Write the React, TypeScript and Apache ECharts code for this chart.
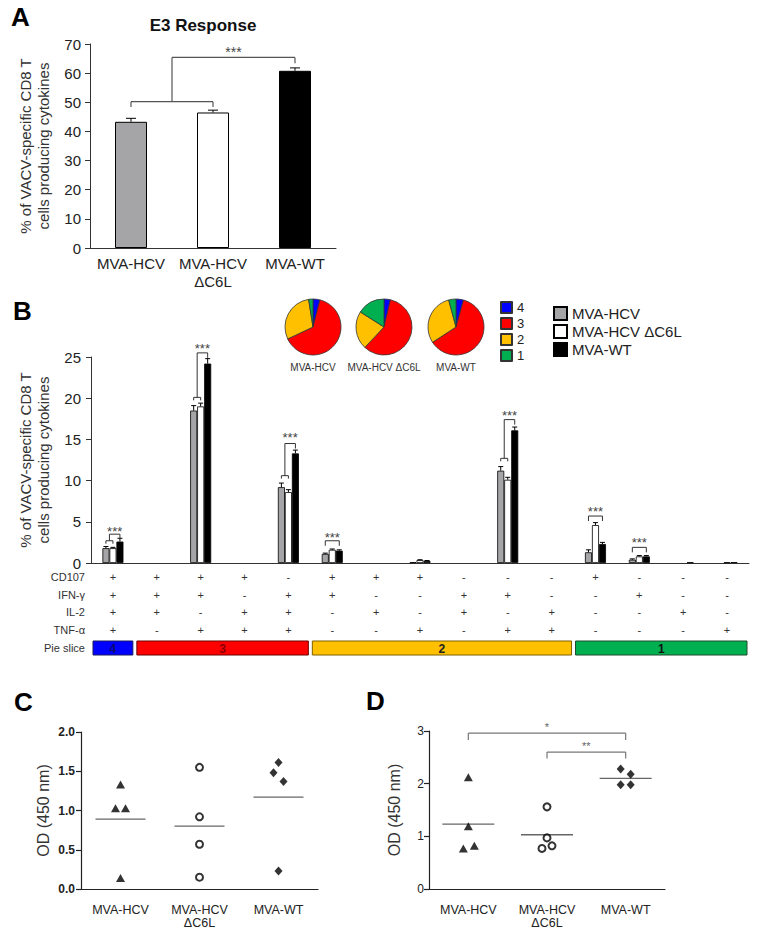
import React, { useEffect, useRef } from 'react';
import * as echarts from 'echarts';

const FONT = "'Liberation Sans', Arial, sans-serif";

// ---------- Panel A ----------
const groupsA = ['MVA-HCV', 'MVA-HCV\nΔC6L', 'MVA-WT'];
const valuesA = [43.3, 46.5, 60.8];
const errorsA = [1.2, 0.8, 1.0];
const groupColors = ['#a5a5a8', '#ffffff', '#000000'];
const sigALow = 50.2;
const sigALowLeg = 48.4;
const sigAHigh = 65.4;
const sigAHighLeg = 63.4;
const sigAStar = 68.2;

// ---------- Panel B ----------
const seriesNamesB = ['MVA-HCV', 'MVA-HCV ΔC6L', 'MVA-WT'];
const columnsB = ['1', '2', '3', '4', '5', '6', '7', '8', '9', '10', '11', '12', '13', '14', '15'];
const hcvB = [1.8, null, 18.5, null, 9.2, 1.1, null, 0.1, null, 11.2, null, 1.3, 0.4, null, null];
const c6lB = [1.8, null, 19.0, null, 8.6, 1.6, null, 0.35, null, 10.1, null, 4.6, 0.8, null, 0.08];
const wtB = [2.6, null, 24.2, null, 13.3, 1.5, null, 0.25, null, 16.1, null, 2.3, 0.8, 0.08, 0.1];
const hcvErrB = [0.2, 0, 0.6, 0, 0.5, 0.1, 0, 0, 0, 0.5, 0, 0.3, 0.1, 0, 0];
const c6lErrB = [0.1, 0, 0.4, 0, 0.3, 0.1, 0, 0.05, 0, 0.3, 0, 0.3, 0.1, 0, 0];
const wtErrB = [0.4, 0, 0.6, 0, 0.4, 0.1, 0, 0.05, 0, 0.4, 0, 0.2, 0.1, 0, 0];

const rowNames = ['CD107', 'IFN-γ', 'IL-2', 'TNF-α'];
const rowCD107 = ['+', '+', '+', '+', '-', '+', '+', '+', '-', '-', '-', '+', '-', '-', '-'];
const rowIFN = ['+', '+', '+', '-', '+', '+', '-', '-', '+', '+', '-', '-', '+', '-', '-'];
const rowIL2 = ['+', '+', '-', '+', '+', '-', '+', '-', '+', '-', '+', '-', '-', '+', '-'];
const rowTNF = ['+', '-', '+', '+', '+', '-', '-', '+', '-', '+', '+', '-', '-', '-', '+'];

const sliceLabels = ['4', '3', '2', '1'];
const sliceStart = [0, 1, 5, 11];
const sliceEnd = [0, 4, 10, 14];
const sliceColors = ['#0000ff', '#ff0000', '#ffc000', '#00b050'];
const sliceBorders = ['#1a1a60', '#6a0000', '#7f6000', '#1f4a2a'];
const sliceTextColors = ['#0a0a70', '#8a0000', '#222222', '#111111'];

const pieNames = ['MVA-HCV', 'MVA-HCV ΔC6L', 'MVA-WT'];
const pieHCV = [4, 64, 29.5, 2.5];
const pieC6L = [3.7, 58.3, 22, 16];
const pieWT = [4.3, 61.5, 30, 4.2];

// significance in B: column, low bracket level (-1 = single bracket), high bracket, stars
const sigBCols = [0, 2, 4, 5, 9, 11, 12];
const sigBLow = [2.7, 20.1, 10.6, -1, 12.7, -1, -1];
const sigBHigh = [3.5, 25.5, 14.5, 2.7, 17.4, 5.7, 1.9];
const sigBStar = [4.2, 26.4, 15.6, 3.4, 18.3, 6.6, 2.8];

// ---------- Panel C ----------
const groupsCD = ['MVA-HCV', 'MVA-HCV\nΔC6L', 'MVA-WT'];
const cHCV = [1.33, 1.03, 1.03, 0.14];
const cC6L = [1.55, 0.92, 0.57, 0.15];
const cWT = [1.61, 1.48, 1.37, 0.23];
const meansC = [0.89, 0.80, 1.17];
const jitC = [[0, -5, 5, 0], [0, 0, 0, 0], [0, -5, 5, 0]];

// ---------- Panel D ----------
const dHCV = [2.12, 1.19, 0.77, 0.82];
const dC6L = [1.56, 0.97, 0.77, 0.82];
const dWT = [2.28, 2.18, 1.98, 1.98];
const meansD = [1.23, 1.03, 2.10];
const jitD = [[0, 0, -5, 6], [0, 0, -5, 5], [-5, 5, -5, 5]];
const sigDFrom = [0, 1];
const sigDTo = [2, 2];
const sigDLevel = [2.96, 2.6];
const sigDLeg = [2.83, 2.48];
const sigDStar = [3.13, 2.77];
const sigDText = ['*', '**'];

const line = (x1: number, y1: number, x2: number, y2: number, style: any) => ({
  type: 'line',
  shape: { x1, y1, x2, y2 },
  style,
});

function buildOption(): any {
  const axisColor = '#333';
  const gridLine = { lineStyle: { color: axisColor, width: 1 } };

  const rowAxes = [rowCD107, rowIFN, rowIL2, rowTNF].map((row, r) => ({
    type: 'category',
    gridIndex: 1,
    data: columnsB,
    position: 'bottom',
    offset: [14, 32, 49, 67][r],
    axisLine: { show: false },
    axisTick: { show: false },
    axisLabel: {
      interval: 0,
      margin: 0,
      verticalAlign: 'middle',
      fontSize: 11,
      color: '#333',
      formatter: (_v: string, i: number) => row[i],
    },
    name: rowNames[r],
    nameLocation: 'start',
    nameGap: 6,
    nameTextStyle: { fontSize: 11, color: '#333' },
  }));

  const barsB = [hcvB, c6lB, wtB].map((vals, k) => ({
    type: 'bar',
    name: seriesNamesB[k],
    xAxisIndex: 1,
    yAxisIndex: 1,
    barWidth: 7,
    barGap: '0%',
    silent: true,
    data: vals,
    itemStyle: { color: groupColors[k], borderColor: '#000', borderWidth: 0.8 },
  }));

  const errDataB: number[][] = [];
  ([[hcvB, hcvErrB], [c6lB, c6lErrB], [wtB, wtErrB]] as any[]).forEach(([vals, errs], k) => {
    vals.forEach((v: number | null, i: number) => {
      if (v !== null && errs[i] > 0) errDataB.push([i, v, errs[i], k]);
    });
  });

  const cdScatter = (vals: number[][], jit: number[][], xAxisIndex: number, yAxisIndex: number) => {
    const symbols = ['triangle', 'circle', 'diamond'];
    return vals.map((arr, g) => ({
      type: 'scatter',
      xAxisIndex,
      yAxisIndex,
      silent: true,
      symbol: symbols[g],
      symbolSize: g === 0 ? [9, 8] : g === 1 ? 7 : [8, 9],
      itemStyle:
        g === 1
          ? { color: '#fff', borderColor: '#000', borderWidth: 2 }
          : { color: '#000' },
      z: 4,
      data: arr.map((v, j) => ({ value: [g, v], symbolOffset: [jit[g][j], 0] })),
    }));
  };

  const meanSeries = (means: number[], xAxisIndex: number, yAxisIndex: number, half: number) => ({
    type: 'custom',
    xAxisIndex,
    yAxisIndex,
    silent: true,
    z: 3,
    data: means.map((m, i) => [i, m]),
    renderItem: (_p: any, api: any) => {
      const c = api.coord([api.value(0), api.value(1)]);
      return line(c[0] - half, c[1], c[0] + half, c[1], { stroke: '#666', lineWidth: 1.3 });
    },
  });

  const cdXAxis = (gridIndex: number) => ({
    type: 'category',
    gridIndex,
    data: groupsCD,
    axisLine: { lineStyle: { color: '#222', width: 1.2 } },
    axisTick: { alignWithLabel: true, length: 6, lineStyle: { color: '#222', width: 1.2 } },
    axisLabel: { interval: 0, fontSize: 12.5, lineHeight: 13, color: '#222', margin: 14 },
  });

  return {
    animation: false,
    backgroundColor: '#fff',
    textStyle: { fontFamily: FONT },
    grid: [
      { left: 90, top: 44, width: 246, height: 204 },
      { left: 91, top: 357, width: 658, height: 206 },
      { left: 81, top: 732, width: 237, height: 157 },
      { left: 429, top: 731, width: 236, height: 158 },
    ],
    legend: [
      {
        data: sliceLabels,
        orient: 'vertical',
        left: 500,
        top: 301,
        padding: 0,
        icon: 'rect',
        itemWidth: 11,
        itemHeight: 11,
        itemGap: 3,
        selectedMode: false,
        textStyle: { fontSize: 13, lineHeight: 12, color: '#222' },
      },
      {
        data: seriesNamesB,
        orient: 'vertical',
        left: 553,
        top: 306,
        padding: 0,
        icon: 'rect',
        itemWidth: 13,
        itemHeight: 13,
        itemGap: 3,
        selectedMode: false,
        textStyle: { fontSize: 15, lineHeight: 14, color: '#222' },
      },
    ],
    xAxis: [
      {
        type: 'category',
        gridIndex: 0,
        data: groupsA,
        axisLine: gridLine,
        axisTick: { length: 7, interval: 0, lineStyle: { color: axisColor } },
        axisLabel: { interval: 0, fontSize: 15, lineHeight: 18, color: '#222', margin: 6 },
      },
      {
        type: 'category',
        gridIndex: 1,
        data: columnsB,
        axisLine: gridLine,
        axisTick: { length: 5, interval: 0, lineStyle: { color: axisColor } },
        axisLabel: { show: false },
      },
      ...rowAxes,
      {
        type: 'category',
        gridIndex: 1,
        data: columnsB,
        position: 'bottom',
        offset: 85,
        axisLine: { show: false },
        axisTick: { show: false },
        axisLabel: { show: false },
        name: 'Pie slice',
        nameLocation: 'start',
        nameGap: 6,
        nameTextStyle: { fontSize: 11, color: '#333' },
      },
      cdXAxis(2),
      cdXAxis(3),
    ],
    yAxis: [
      {
        type: 'value',
        gridIndex: 0,
        min: 0,
        max: 70,
        interval: 10,
        axisLine: { show: true, ...gridLine },
        axisTick: { show: true, length: 5, lineStyle: { color: axisColor } },
        splitLine: { show: false },
        axisLabel: { fontSize: 15, color: '#222', margin: 9 },
        name: '% of VACV-specific CD8 T\ncells producing cytokines',
        nameLocation: 'middle',
        nameRotate: 90,
        nameGap: 38,
        nameTextStyle: { fontSize: 15, lineHeight: 18, color: '#333' },
      },
      {
        type: 'value',
        gridIndex: 1,
        min: 0,
        max: 25,
        interval: 5,
        axisLine: { show: true, ...gridLine },
        axisTick: { show: true, length: 5, lineStyle: { color: axisColor } },
        splitLine: { show: false },
        axisLabel: { fontSize: 15, color: '#222', margin: 10 },
        name: '% of VACV-specific CD8 T\ncells producing cytokines',
        nameLocation: 'middle',
        nameRotate: 90,
        nameGap: 39,
        nameTextStyle: { fontSize: 15, lineHeight: 18, color: '#333' },
      },
      {
        type: 'value',
        gridIndex: 2,
        min: 0,
        max: 2,
        interval: 0.5,
        axisLine: { show: true, lineStyle: { color: '#222', width: 1.2 } },
        axisTick: { show: true, length: 5, lineStyle: { color: '#222', width: 1.2 } },
        splitLine: { show: false },
        axisLabel: { fontSize: 12, color: '#222', margin: 6, fontWeight: 'bold', formatter: (v: number) => v.toFixed(1) },
        name: 'OD (450 nm)',
        nameLocation: 'middle',
        nameRotate: 90,
        nameGap: 29,
        nameTextStyle: { fontSize: 16, lineHeight: 18, color: '#333' },
      },
      {
        type: 'value',
        gridIndex: 3,
        min: 0,
        max: 3,
        interval: 1,
        axisLine: { show: true, lineStyle: { color: '#222', width: 1.2 } },
        axisTick: { show: true, length: 5, lineStyle: { color: '#222', width: 1.2 } },
        splitLine: { show: false },
        axisLabel: { fontSize: 12, color: '#222', margin: 5 },
        name: 'OD (450 nm)',
        nameLocation: 'middle',
        nameRotate: 90,
        nameGap: 26,
        nameTextStyle: { fontSize: 16, lineHeight: 18, color: '#333' },
      },
    ],
    graphic: [
      { type: 'text', left: 11, top: 4, style: { text: 'A', font: `bold 26px ${FONT}`, fill: '#000' } },
      { type: 'text', left: 13, top: 298, style: { text: 'B', font: `bold 26px ${FONT}`, fill: '#000' } },
      { type: 'text', left: 14, top: 689, style: { text: 'C', font: `bold 26px ${FONT}`, fill: '#000' } },
      { type: 'text', left: 366, top: 688, style: { text: 'D', font: `bold 26px ${FONT}`, fill: '#000' } },
      { type: 'text', x: 203, y: 25, style: { text: 'E3 Response', font: `bold 17px ${FONT}`, fill: '#111', align: 'center', verticalAlign: 'middle' } },
      ...pieNames.map((n, k) => ({
        type: 'text',
        x: [313, 384, 456][k],
        y: 367,
        style: { text: n, font: `10px ${FONT}`, fill: '#333', align: 'center', verticalAlign: 'middle' },
      })),
    ],
    series: [
      // Panel A
      {
        type: 'bar',
        name: 'E3',
        xAxisIndex: 0,
        yAxisIndex: 0,
        barWidth: 32,
        silent: true,
        data: valuesA.map((v, i) => ({ value: v, itemStyle: { color: groupColors[i] } })),
        itemStyle: { borderColor: '#000', borderWidth: 1 },
      },
      {
        type: 'custom',
        xAxisIndex: 0,
        yAxisIndex: 0,
        silent: true,
        z: 5,
        data: valuesA.map((v, i) => [i, v, errorsA[i]]),
        renderItem: (_p: any, api: any) => {
          const i = api.value(0), v = api.value(1), e = api.value(2);
          const b = api.coord([i, v]);
          const t = api.coord([i, v + e]);
          const st = { stroke: '#000', lineWidth: 1 };
          return {
            type: 'group',
            children: [line(b[0], b[1], t[0], t[1], st), line(t[0] - 5, t[1], t[0] + 5, t[1], st)],
          };
        },
      },
      {
        type: 'custom',
        xAxisIndex: 0,
        yAxisIndex: 0,
        silent: true,
        z: 5,
        data: [[0, 0]],
        renderItem: (_p: any, api: any) => {
          const l0 = api.coord([0, sigALow]);
          const l1 = api.coord([1, sigALow]);
          const leg = api.coord([0, sigALowLeg]);
          const h2 = api.coord([2, sigAHigh]);
          const leg2 = api.coord([2, sigAHighLeg]);
          const st = api.coord([0, sigAStar]);
          const mx = (l0[0] + l1[0]) / 2;
          const s = { stroke: '#555', lineWidth: 1.2 };
          return {
            type: 'group',
            children: [
              line(l0[0], leg[1], l0[0], l0[1], s),
              line(l0[0], l0[1], l1[0], l0[1], s),
              line(l1[0], l0[1], l1[0], leg[1], s),
              line(mx, l0[1], mx, h2[1], s),
              line(mx, h2[1], h2[0], h2[1], s),
              line(h2[0], h2[1], h2[0], leg2[1], s),
              {
                type: 'text',
                style: { text: '***', x: (mx + h2[0]) / 2, y: st[1] + 3, align: 'center', verticalAlign: 'middle', font: `14px ${FONT}`, fill: '#444' },
              },
            ],
          };
        },
      },
      // Panel B
      ...barsB,
      {
        type: 'custom',
        xAxisIndex: 1,
        yAxisIndex: 1,
        silent: true,
        z: 5,
        data: errDataB,
        renderItem: (_p: any, api: any) => {
          const i = api.value(0), v = api.value(1), e = api.value(2), k = api.value(3);
          const dx = (k - 1) * 7;
          const b = api.coord([i, v]);
          const t = api.coord([i, v + e]);
          const st = { stroke: '#000', lineWidth: 1 };
          return {
            type: 'group',
            children: [line(b[0] + dx, b[1], t[0] + dx, t[1], st), line(t[0] + dx - 2.5, t[1], t[0] + dx + 2.5, t[1], st)],
          };
        },
      },
      {
        type: 'custom',
        xAxisIndex: 1,
        yAxisIndex: 1,
        silent: true,
        z: 5,
        data: sigBCols.map((c, j) => [c, sigBLow[j], sigBHigh[j], sigBStar[j]]),
        renderItem: (_p: any, api: any) => {
          const c = api.value(0), low = api.value(1), high = api.value(2), star = api.value(3);
          const h = api.coord([c, high]);
          const sy = api.coord([c, star])[1];
          const cx = h[0];
          const s = { stroke: '#333', lineWidth: 1 };
          const children: any[] = [];
          let starX = cx;
          if (low >= 0) {
            const ly = api.coord([c, low])[1];
            children.push(line(cx - 7, ly + 3, cx - 7, ly, s), line(cx - 7, ly, cx, ly, s), line(cx, ly, cx, ly + 3, s));
            children.push(line(cx - 3.5, ly, cx - 3.5, h[1], s), line(cx - 3.5, h[1], cx + 7, h[1], s), line(cx + 7, h[1], cx + 7, h[1] + 5, s));
            starX = cx + 1.75;
          } else {
            children.push(line(cx - 7, h[1] + 5, cx - 7, h[1], s), line(cx - 7, h[1], cx + 7, h[1], s), line(cx + 7, h[1], cx + 7, h[1] + 5, s));
          }
          children.push({
            type: 'text',
            style: { text: '***', x: starX, y: sy + 3, align: 'center', verticalAlign: 'middle', font: `13px ${FONT}`, fill: '#444' },
          });
          return { type: 'group', children };
        },
      },
      {
        type: 'custom',
        xAxisIndex: 1,
        yAxisIndex: 1,
        silent: true,
        clip: false,
        z: 5,
        data: sliceLabels.map((_l, k) => [sliceStart[k], sliceEnd[k], k]),
        renderItem: (_p: any, api: any) => {
          const s = api.value(0), e = api.value(1), k = api.value(2);
          const w = api.size([1, 0])[0];
          const p0 = api.coord([s, 0]);
          const p1 = api.coord([e, 0]);
          const x0 = p0[0] - w / 2 + 2;
          const x1 = p1[0] + w / 2 - 2;
          const y = p0[1] + 78;
          return {
            type: 'group',
            children: [
              { type: 'rect', shape: { x: x0, y, width: x1 - x0, height: 14 }, style: { fill: sliceColors[k], stroke: sliceBorders[k], lineWidth: 1 } },
              {
                type: 'text',
                style: { text: sliceLabels[k], x: (x0 + x1) / 2, y: y + 7.5, align: 'center', verticalAlign: 'middle', font: `bold 12px ${FONT}`, fill: sliceTextColors[k] },
              },
            ],
          };
        },
      },
      ...[pieHCV, pieC6L, pieWT].map((vals, k) => ({
        type: 'pie',
        name: pieNames[k],
        center: [[313, 384, 456][k], 327],
        radius: 28,
        startAngle: 90,
        clockwise: true,
        silent: true,
        label: { show: false },
        labelLine: { show: false },
        itemStyle: { borderColor: '#333', borderWidth: 0.8 },
        data: vals.map((v, j) => ({ name: sliceLabels[j], value: v, itemStyle: { color: sliceColors[j] } })),
      })),
      // Panel C
      ...cdScatter([cHCV, cC6L, cWT], jitC, 7, 2),
      meanSeries(meansC, 7, 2, 25),
      // Panel D
      ...cdScatter([dHCV, dC6L, dWT], jitD, 8, 3),
      meanSeries(meansD, 8, 3, 26),
      {
        type: 'custom',
        xAxisIndex: 8,
        yAxisIndex: 3,
        silent: true,
        clip: false,
        z: 5,
        data: sigDFrom.map((f, j) => [f, sigDTo[j], sigDLevel[j], sigDLeg[j], sigDStar[j], j]),
        renderItem: (_p: any, api: any) => {
          const f = api.value(0), t = api.value(1), lv = api.value(2), lg = api.value(3), sv = api.value(4), j = api.value(5);
          const a = api.coord([f, lv]);
          const b = api.coord([t, lv]);
          const ly = api.coord([f, lg])[1];
          const sy = api.coord([f, sv])[1];
          const s = { stroke: '#777', lineWidth: 1.2 };
          return {
            type: 'group',
            children: [
              line(a[0], ly, a[0], a[1], s),
              line(a[0], a[1], b[0], a[1], s),
              line(b[0], a[1], b[0], ly, s),
              {
                type: 'text',
                style: { text: sigDText[j], x: (a[0] + b[0]) / 2, y: sy + 3, align: 'center', verticalAlign: 'middle', font: `11px ${FONT}`, fill: '#666' },
              },
            ],
          };
        },
      },
    ],
  };
}

export default function App() {
  const ref = useRef<HTMLDivElement>(null);
  useEffect(() => {
    if (!ref.current) return;
    const chart = echarts.init(ref.current, null, { renderer: 'svg' });
    chart.setOption(buildOption());
    return () => chart.dispose();
  }, []);
  return (
    <div
      ref={ref}
      style={{ position: 'absolute', left: 0, top: 0, width: 758, height: 940, background: '#fff' }}
    />
  );
}
